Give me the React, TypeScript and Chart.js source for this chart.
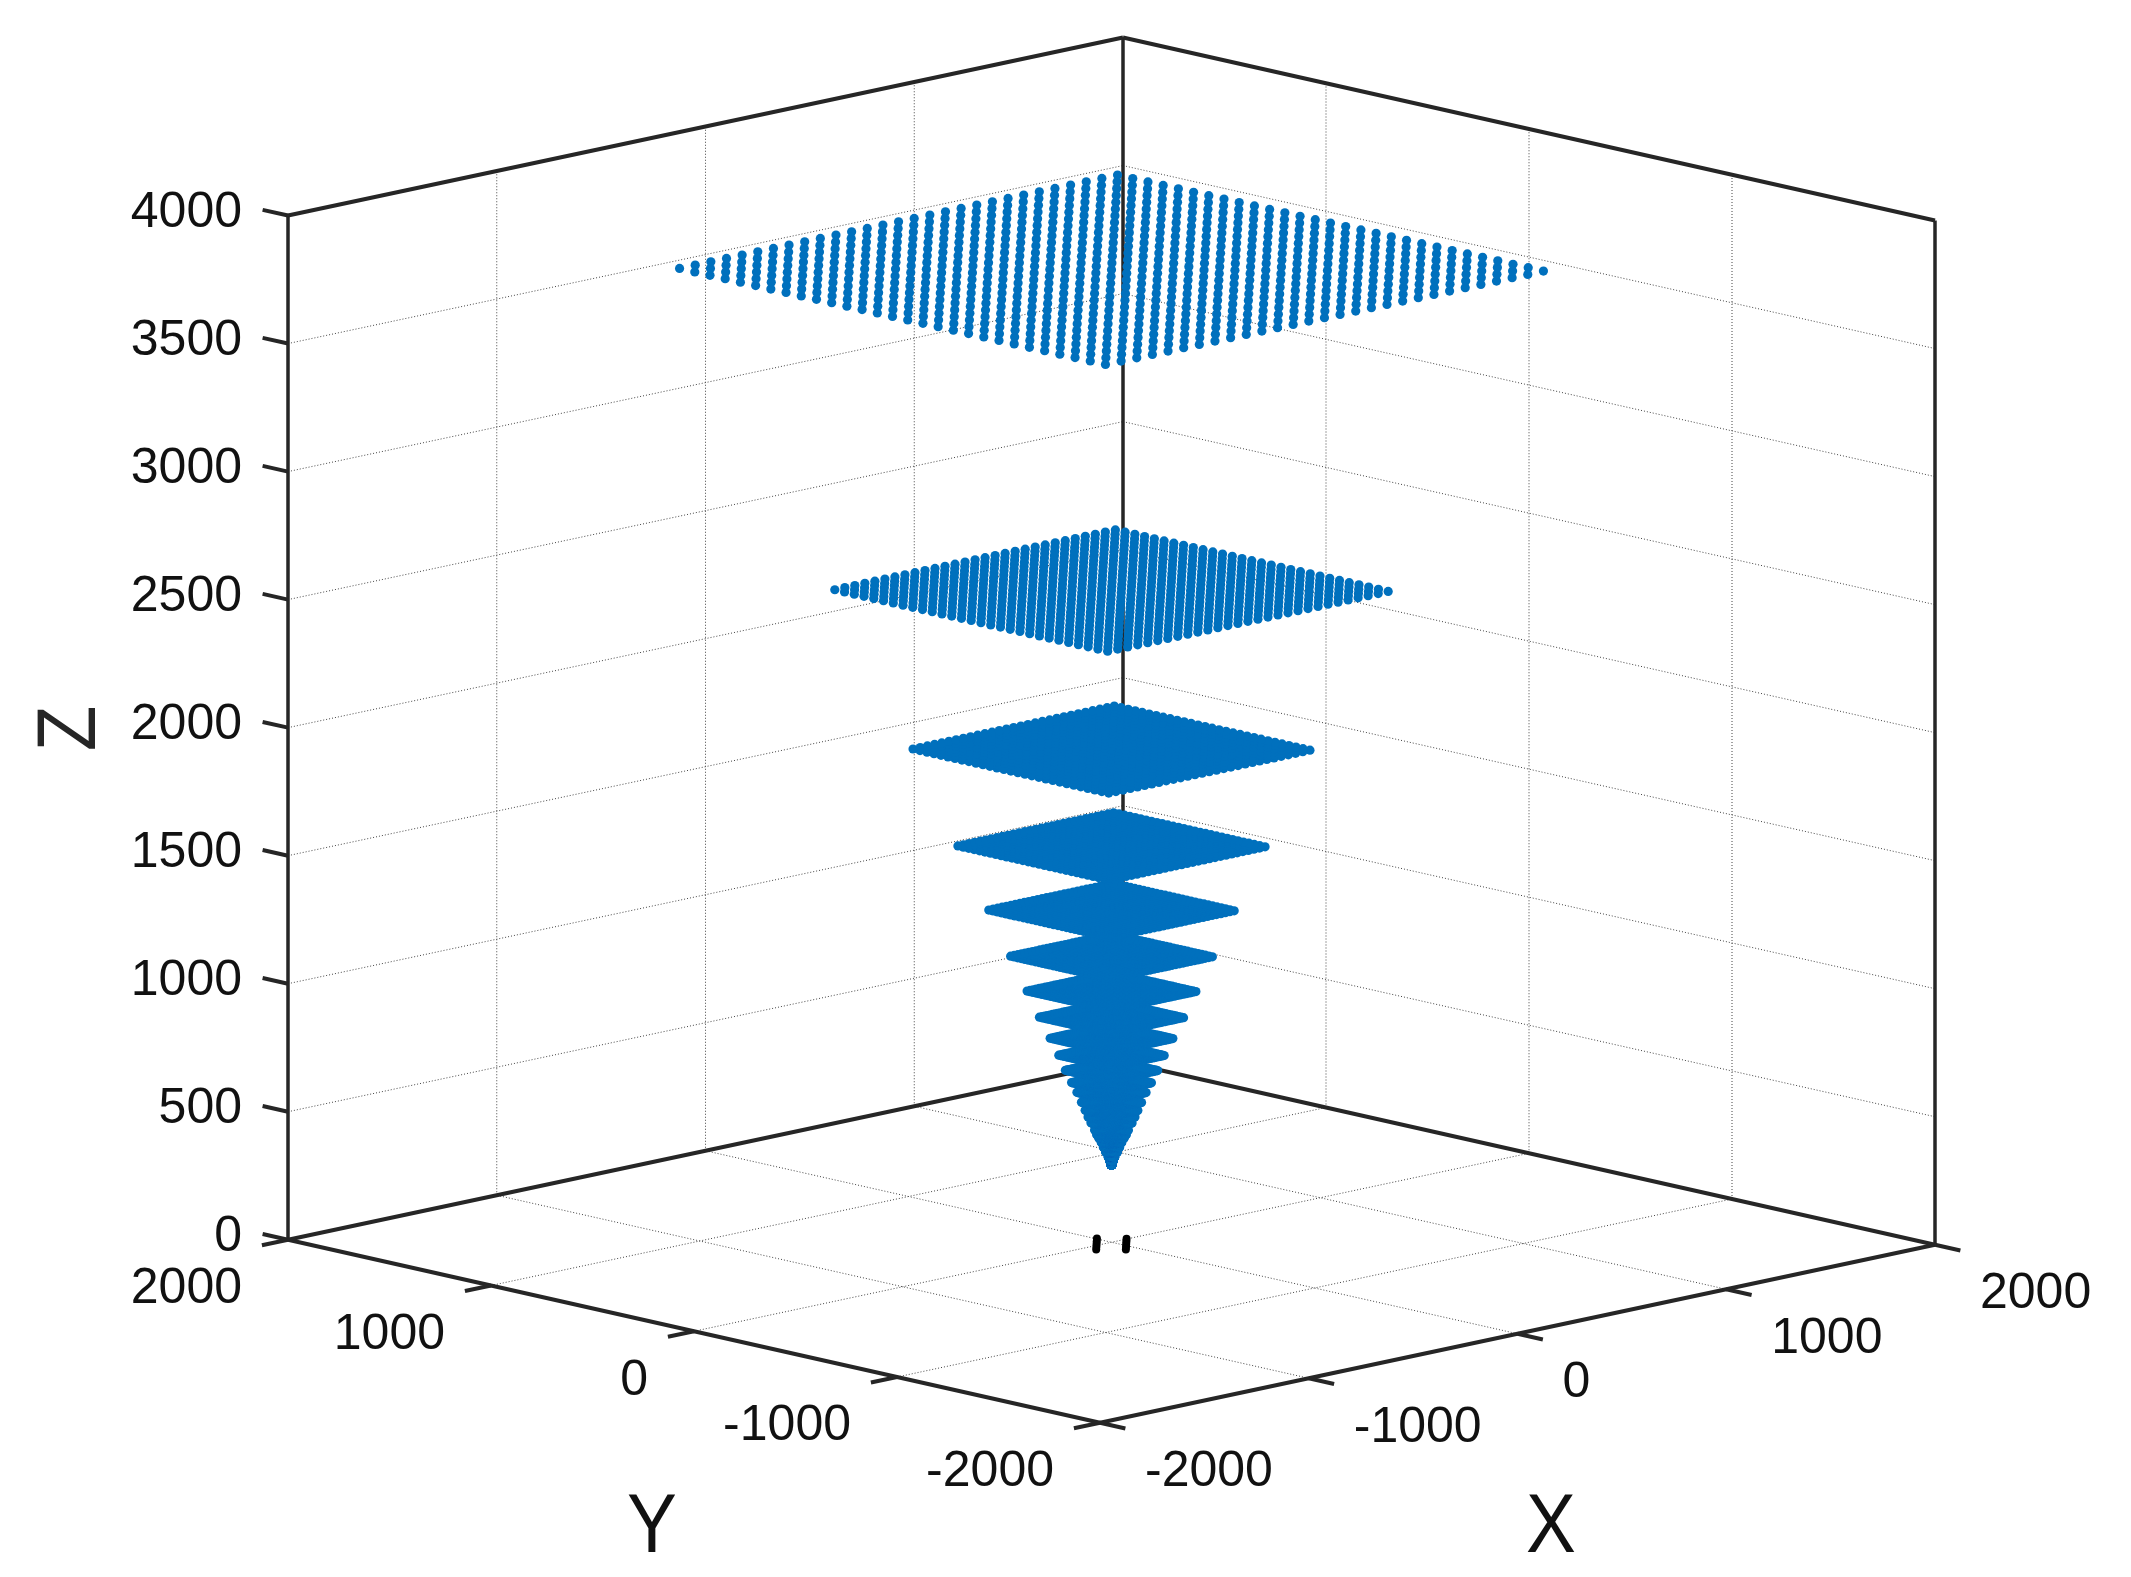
import React, { useEffect, useRef } from "react";
import { Chart, registerables } from "chart.js";

Chart.register(...registerables);

// World-space axis ticks
const xTicks = [-2000, -1000, 0, 1000, 2000];
const yTicks = [-2000, -1000, 0, 1000, 2000];
const zTicks = [0, 500, 1000, 1500, 2000, 2500, 3000, 3500, 4000];

// Height of every scanned layer, and half side of its square
const layerZ = [3798, 2545, 1924, 1546, 1296, 1116, 980, 878, 796, 730, 671, 623, 585, 546, 515, 489, 466, 438, 420, 407, 390, 372, 352, 333, 317, 302];
const layerHalf = [1049, 672, 482, 373, 298, 245, 205, 175, 149, 128, 112, 97, 84, 73, 64, 57, 50, 41, 36, 31, 25, 20, 14, 8, 4, 1];
// Lattice positions across one layer, as a fraction of 14 steps
const latticeSteps = [-14, -13, -12, -11, -10, -9, -8, -7, -6, -5, -4, -3, -2, -1, 0, 1, 2, 3, 4, 5, 6, 7, 8, 9, 10, 11, 12, 13, 14];

// The two short black marks on the floor
const markX = [-116, -86, -56, -26, 4, -44, -14, 16, 46, 76];
const markY = [-44, -14, 16, 46, 76, -116, -86, -56, -26, 4];

// Projection of the 3D box onto the flat x/y scales
const ORIGIN = { h: 1111.5, v: 1242.25 };
const UX = { h: 0.20875, v: -0.0445 };
const UY = { h: -0.203, v: -0.04575 };
const UZ = -0.25605;
const project = (x: number, y: number, z: number) => ({
  x: ORIGIN.h + UX.h * x + UY.h * y,
  y: ORIGIN.v + UX.v * x + UY.v * y + UZ * z,
});

const AXIS = "#262626";
const GRID = "#444444";
const BLUE = "#0070BD";
const TICK_OUT = 125;
const LO = -2000;
const HI = 2000;
const ZTOP = 4000;

type P = [number, number, number];

function line(a: P, b: P, color: string, width: number, dash: number[], order: number) {
  return {
    type: "scatter" as const,
    data: [project(...a), project(...b)],
    showLine: true,
    borderColor: color,
    borderWidth: width,
    borderDash: dash,
    pointRadius: 0,
    order,
  };
}

function buildDatasets() {
  const ds: any[] = [];
  const dots = [1, 2];
  // grid
  for (const x of xTicks) {
    if (x !== LO && x !== HI) ds.push(line([x, HI, 0], [x, HI, ZTOP], GRID, 1, dots, 30));
    if (x !== LO && x !== HI) ds.push(line([x, LO, 0], [x, HI, 0], GRID, 1, dots, 30));
  }
  for (const y of yTicks) {
    if (y !== LO && y !== HI) ds.push(line([HI, y, 0], [HI, y, ZTOP], GRID, 1, dots, 30));
    if (y !== LO && y !== HI) ds.push(line([LO, y, 0], [HI, y, 0], GRID, 1, dots, 30));
  }
  for (const z of zTicks) {
    if (z === 0 || z === ZTOP) continue;
    ds.push(line([LO, HI, z], [HI, HI, z], GRID, 1, dots, 30));
    ds.push(line([HI, HI, z], [HI, LO, z], GRID, 1, dots, 30));
  }
  // box
  ds.push(line([LO, HI, ZTOP], [HI, HI, ZTOP], AXIS, 4, [], 20));
  ds.push(line([HI, HI, ZTOP], [HI, LO, ZTOP], AXIS, 4, [], 20));
  ds.push(line([LO, HI, 0], [HI, HI, 0], AXIS, 4, [], 20));
  ds.push(line([HI, HI, 0], [HI, LO, 0], AXIS, 4, [], 20));
  ds.push(line([LO, HI, 0], [LO, HI, ZTOP], AXIS, 3.5, [], 20));
  ds.push(line([HI, HI, 0], [HI, HI, ZTOP], AXIS, 3.5, [], 20));
  ds.push(line([HI, LO, 0], [HI, LO, ZTOP], AXIS, 3.5, [], 20));
  ds.push(line([LO, LO, 0], [HI, LO, 0], AXIS, 4, [], 20));
  ds.push(line([LO, LO, 0], [LO, HI, 0], AXIS, 4, [], 20));
  // ticks
  for (const x of xTicks) ds.push(line([x, LO, 0], [x, LO - TICK_OUT, 0], AXIS, 4, [], 20));
  for (const y of yTicks) ds.push(line([LO, y, 0], [LO - TICK_OUT, y, 0], AXIS, 4, [], 20));
  for (const z of zTicks) ds.push(line([LO, HI, z], [LO, HI + TICK_OUT, z], AXIS, 4, [], 20));
  // marks on the floor
  ds.push({
    type: "scatter",
    data: markX.map((x, i) => project(x, markY[i], 0)),
    backgroundColor: "#000000",
    pointRadius: 4,
    borderWidth: 0,
    order: 10,
  });
  // layers
  layerZ.forEach((z, k) => {
    const pts: { x: number; y: number }[] = [];
    for (const i of latticeSteps) {
      for (const j of latticeSteps) {
        pts.push(project((layerHalf[k] * i) / 14, (layerHalf[k] * j) / 14, z));
      }
    }
    ds.push({
      type: "scatter",
      data: pts,
      backgroundColor: BLUE,
      pointRadius: 4.6,
      borderWidth: 0,
      order: 1,
    });
  });
  return ds;
}

const TICK_SIZE = 50;
const NAME_SIZE = 83;

const labelPlugin = {
  id: "axisLabels",
  afterDraw(chart: any) {
    const { ctx, scales } = chart;
    const px = (p: { x: number; y: number }) => ({
      x: scales.x.getPixelForValue(p.x),
      y: scales.y.getPixelForValue(p.y),
    });
    ctx.save();
    ctx.fillStyle = "#111111";
    ctx.textBaseline = "alphabetic";
    ctx.font = `${TICK_SIZE}px "Liberation Sans"`;
    const mid = TICK_SIZE * 0.358;
    ctx.textAlign = "right";
    for (const z of zTicks) {
      const p = px(project(LO, HI, z));
      ctx.fillText(String(z), p.x - 46, p.y - 6.5 + mid);
    }
    for (const y of yTicks) {
      const p = px(project(LO, y, 0));
      ctx.fillText(String(y), p.x - 46, p.y + 45.5 + mid);
    }
    ctx.textAlign = "left";
    for (const x of xTicks) {
      const p = px(project(x, LO, 0));
      ctx.fillText(String(x), p.x + 45, p.y + 45.5 + mid);
    }
    const name = (t: string, cx: number, cy: number, rot: number) => {
      ctx.save();
      ctx.translate(scales.x.getPixelForValue(cx), scales.y.getPixelForValue(cy));
      ctx.rotate(rot);
      ctx.scale(0.9, 1);
      ctx.textAlign = "center";
      ctx.font = `${NAME_SIZE}px "Liberation Sans"`;
      ctx.fillText(t, 0, NAME_SIZE * 0.358);
      ctx.restore();
    };
    name("Y", 652, 1522, 0);
    name("X", 1551, 1522, 0);
    ctx.fillStyle = "#262626";
    name("Z", 65, 728.5, -Math.PI / 2);
    ctx.restore();
  },
};

export default function App() {
  const ref = useRef<HTMLCanvasElement>(null);
  useEffect(() => {
    const canvas = ref.current;
    if (!canvas) return;
    const chart = new Chart(canvas, {
      type: "scatter",
      data: { datasets: buildDatasets() },
      options: {
        animation: false,
        responsive: false,
        devicePixelRatio: 1,
        layout: { padding: 0, autoPadding: false },
        plugins: { legend: { display: false }, tooltip: { enabled: false }, title: { display: false } },
        events: [],
        scales: {
          x: { type: "linear", display: false, min: 0, max: 2131 },
          y: { type: "linear", display: false, min: 0, max: 1577, reverse: true },
        },
      },
      plugins: [labelPlugin],
    } as any);
    return () => chart.destroy();
  }, []);
  return (
    <canvas
      ref={ref}
      width={2131}
      height={1577}
      style={{ position: "absolute", left: 0, top: 0, width: 2131, height: 1577, display: "block" }}
    />
  );
}
